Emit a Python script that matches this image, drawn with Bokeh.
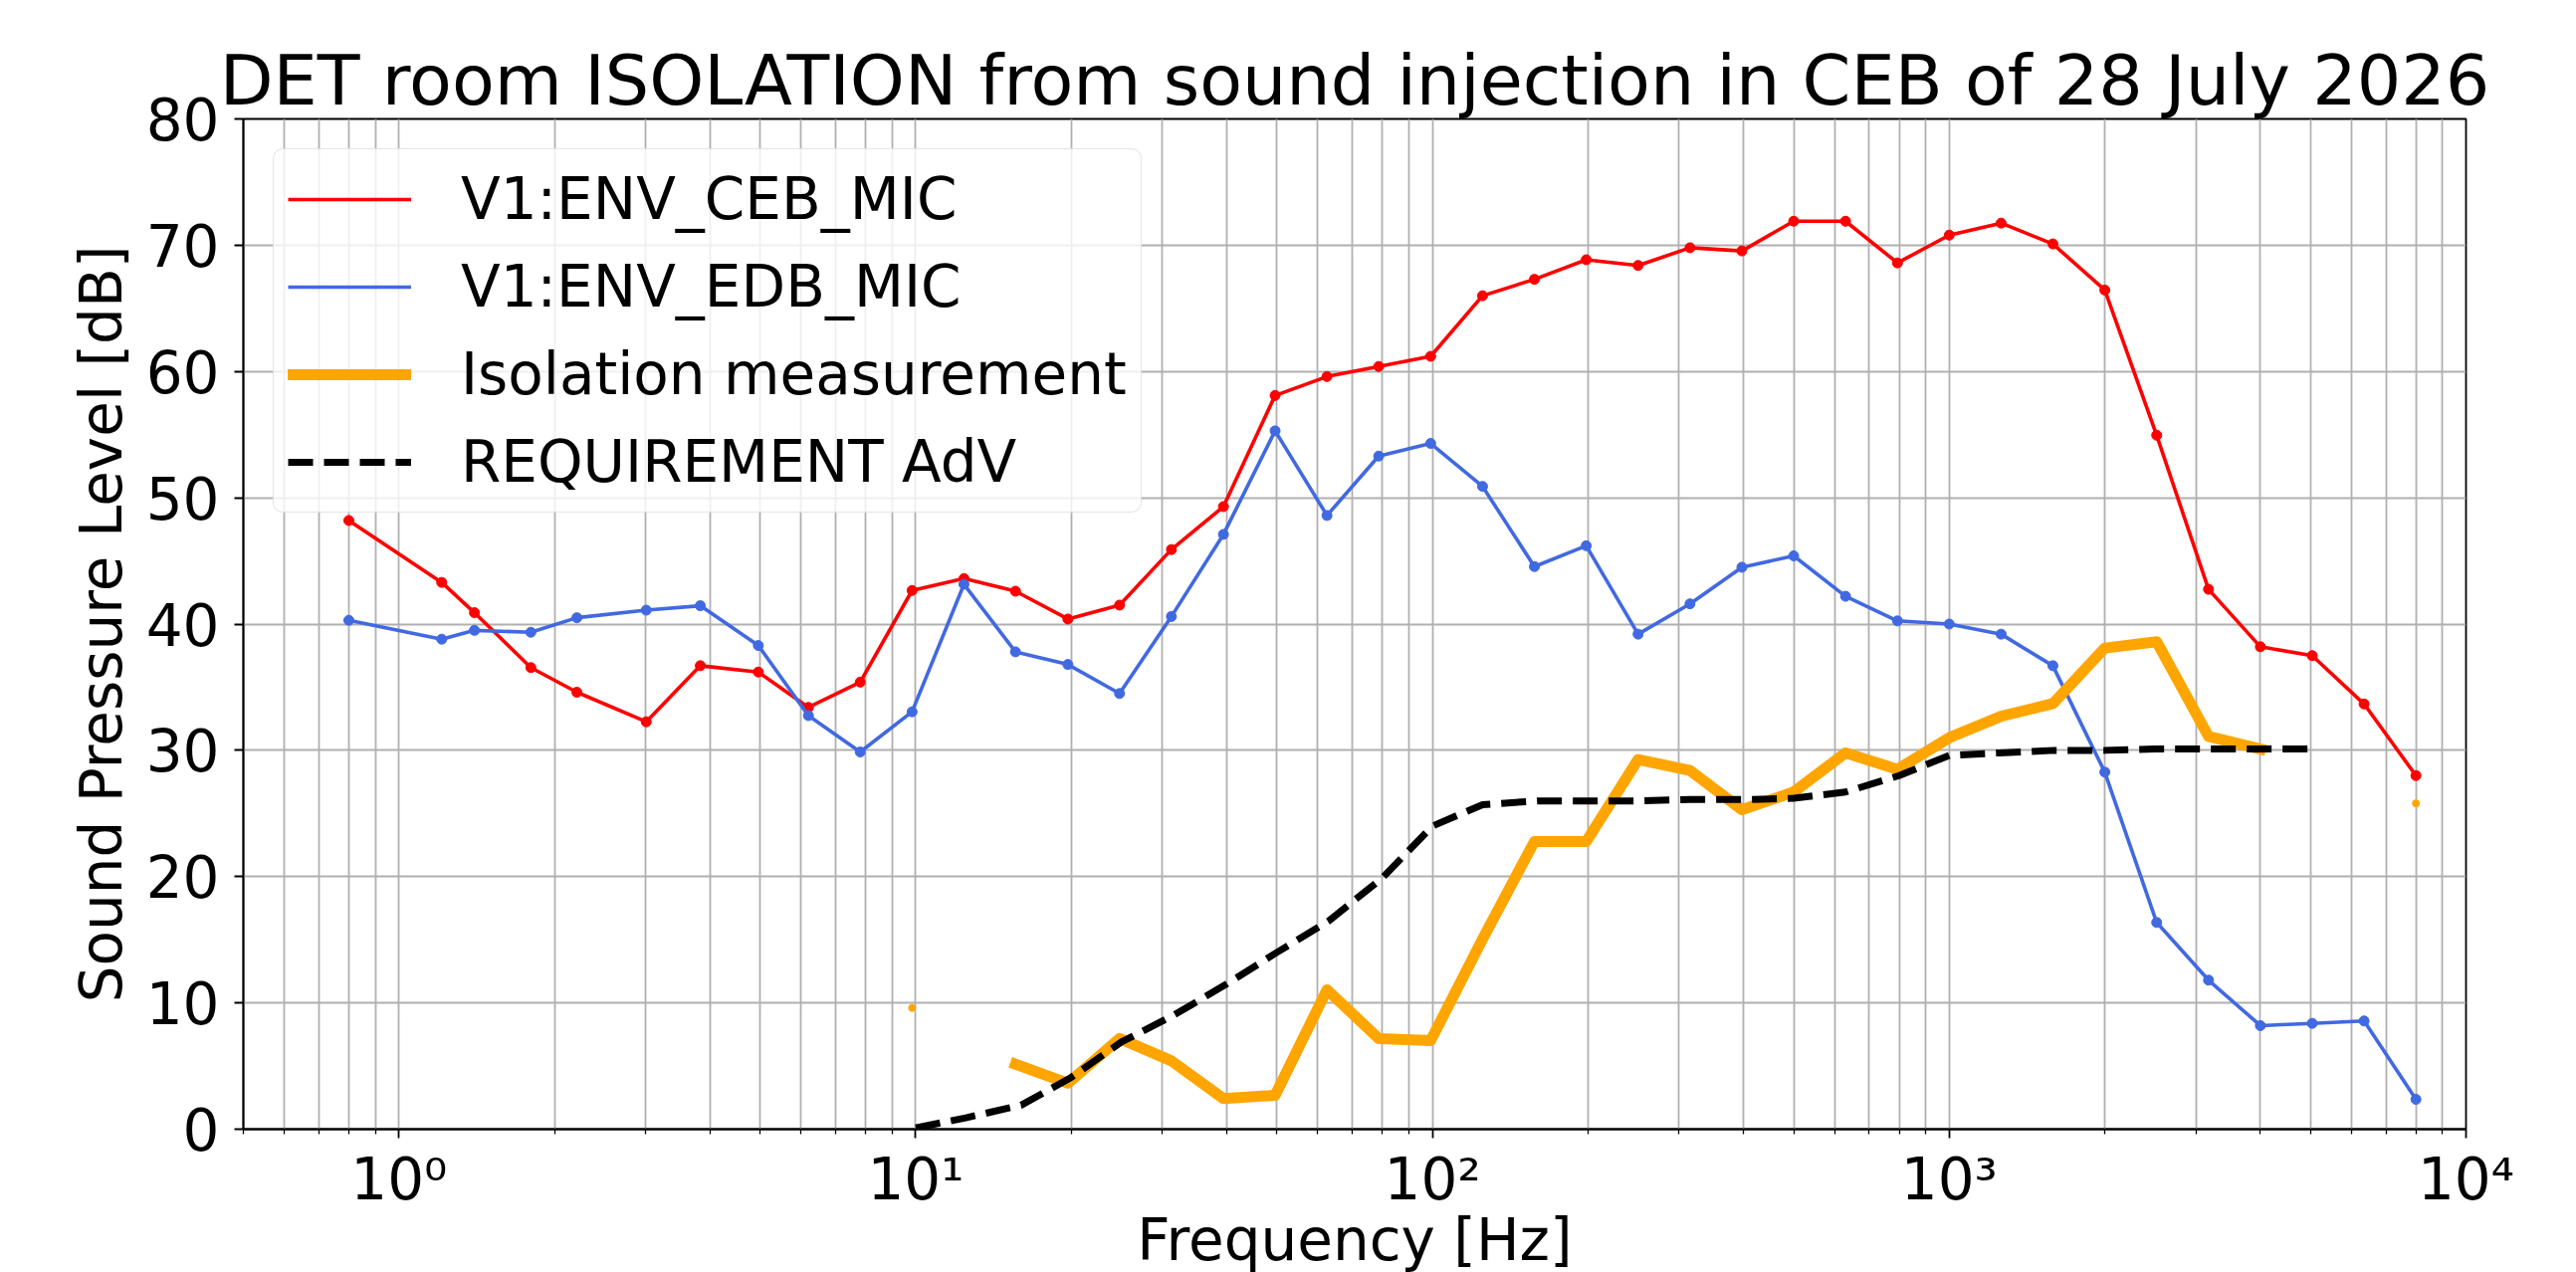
import numpy as np
from bokeh.plotting import figure
from bokeh.models import (Range1d, FixedTicker, CustomJSTickFormatter, Legend,
                          LegendItem, Title)
from bokeh.embed import file_html
from bokeh.resources import INLINE

nan = float("nan")

# ---------------- data ----------------
FREQ = [0.8, 1.21, 1.4, 1.8, 2.21, 3.01, 3.83, 4.96, 6.2, 7.81, 9.84, 12.4,
        15.6, 19.7, 24.8, 31.25, 39.4, 49.6, 62.5, 78.7, 99.2, 125, 157.5,
        198.4, 250, 315, 397, 500, 630, 794, 1000, 1260, 1587, 2000, 2520,
        3175, 4000, 5040, 6350, 8000]

CEB_MIC = [48.2, 43.3, 40.9, 36.55, 34.6, 32.26, 36.7, 36.2, 33.4, 35.4, 42.66,
           43.6, 42.6, 40.4, 41.5, 45.9, 49.3, 58.1, 59.6, 60.4, 61.2, 66.0,
           67.3, 68.85, 68.4, 69.8, 69.55, 71.9, 71.9, 68.6, 70.8, 71.75, 70.1,
           66.45, 54.95, 42.75, 38.2, 37.5, 33.67, 28.0]

EDB_MIC = [40.3, 38.8, 39.5, 39.35, 40.5, 41.1, 41.45, 38.3, 32.75, 29.87, 33.05,
           43.15, 37.8, 36.8, 34.5, 40.6, 47.1, 55.3, 48.6, 53.3, 54.3, 50.9,
           44.55, 46.2, 39.2, 41.6, 44.5, 45.4, 42.2, 40.25, 40.0, 39.2, 36.7,
           28.27, 16.37, 11.8, 8.2, 8.38, 8.57, 2.36]

ISOLATION = [nan, nan, nan, nan, nan, nan, nan, nan, nan, nan, 9.6,
             nan, 5.15, 3.64, 7.18, 5.41, 2.42, 2.68, 11.04, 7.18, 7.02, 15.06,
             22.78, 22.78, 29.28, 28.4, 25.3, 26.7, 29.8, 28.5, 31.0, 32.7, 33.7,
             38.1, 38.6, 31.1, 30.1, nan, nan, 25.8]

REQ_FREQ = [10, 12.5, 16, 20, 25, 31.5, 40, 50, 63, 80, 100, 125, 160, 200,
            250, 315, 400, 500, 630, 800, 1000, 1250, 1600, 2000, 2500, 3150,
            4000, 5000]
REQUIREMENT = [0.1, 0.9, 1.9, 4.1, 6.9, 9.0, 11.5, 14.0, 16.5, 19.9, 24.0, 25.7,
               26.0, 26.0, 26.0, 26.1, 26.1, 26.2, 26.7, 28.0, 29.6, 29.8, 30.0,
               30.0, 30.1, 30.1, 30.1, 30.1]

X_MAJOR = [1, 10, 100, 1000, 10000]
X_MINOR = [0.5, 0.6, 0.7, 0.8, 0.9,
           2, 3, 4, 5, 6, 7, 8, 9,
           20, 30, 40, 50, 60, 70, 80, 90,
           200, 300, 400, 500, 600, 700, 800, 900,
           2000, 3000, 4000, 5000, 6000, 7000, 8000, 9000]
Y_TICKS = [0, 10, 20, 30, 40, 50, 60, 70, 80]

TITLE = "DET room ISOLATION from sound injection in CEB of 28 July 2026"
XLABEL = "Frequency [Hz]"
YLABEL = "Sound Pressure Level [dB]"
LABELS = ["V1:ENV_CEB_MIC", "V1:ENV_EDB_MIC", "Isolation measurement",
          "REQUIREMENT AdV"]

FONT = "DejaVu Sans"
FS = "58px"

# ---------------- figure ----------------
FW, FH = 2233, 1015
p = figure(frame_width=FW, frame_height=FH, x_axis_type="log",
           x_range=Range1d(0.5, 10000), y_range=Range1d(0, 80),
           output_backend="svg", toolbar_location=None,
           min_border_left=244, min_border_right=109,
           min_border_top=119, min_border_bottom=142,
           background_fill_color="white", border_fill_color="white")
p.title = Title(text=TITLE, align="center", text_font=FONT,
                text_font_size="70px", text_font_style="normal",
                text_color="black", standoff=-5)
p.outline_line_color = "black"
p.outline_line_width = 1.8

xt = FixedTicker(ticks=X_MAJOR, minor_ticks=X_MINOR)
yt = FixedTicker(ticks=Y_TICKS, minor_ticks=[])
p.xaxis.ticker = xt
p.yaxis.ticker = yt
p.xgrid.ticker = xt
p.ygrid.ticker = yt

p.xaxis.formatter = CustomJSTickFormatter(code="""
const sup = {"0":"\\u2070","1":"\\u00b9","2":"\\u00b2","3":"\\u00b3","4":"\\u2074",
             "5":"\\u2075","6":"\\u2076","7":"\\u2077","8":"\\u2078","9":"\\u2079","-":"\\u207b"};
const e = Math.round(Math.log10(tick));
return "10" + String(e).split("").map(c => sup[c]).join("");
""")

for ax in (p.xaxis[0], p.yaxis[0]):
    ax.axis_line_color = "black"
    ax.axis_line_width = 1.8
    ax.major_tick_line_color = "black"
    ax.major_tick_line_width = 1.8
    ax.major_tick_out = 9
    ax.major_tick_in = 0
    ax.major_label_text_font = FONT
    ax.major_label_text_font_size = FS
    ax.major_label_text_color = "black"
    ax.axis_label_text_font = FONT
    ax.axis_label_text_font_size = FS
    ax.axis_label_text_font_style = "normal"
    ax.axis_label_text_color = "black"

p.xaxis.minor_tick_line_color = "black"
p.xaxis.minor_tick_line_width = 1.3
p.xaxis.minor_tick_out = 5
p.xaxis.minor_tick_in = 0
p.xaxis.major_label_standoff = 7
p.xaxis.axis_label = XLABEL
p.xaxis.axis_label_standoff = -10

p.yaxis.minor_tick_line_color = None
p.yaxis.major_label_standoff = 15
p.yaxis.axis_label = YLABEL
p.yaxis.axis_label_standoff = 8

for g in (p.xgrid, p.ygrid):
    g.grid_line_color = "#b0b0b0"
    g.grid_line_width = 1.8
p.xgrid.minor_grid_line_color = "#b0b0b0"
p.xgrid.minor_grid_line_width = 1.8

# ---------------- series ----------------
f = np.array(FREQ, dtype=float)
r_ceb = p.line(f, np.array(CEB_MIC), line_color="red", line_width=3.6,
               line_join="round")
p.scatter(f, np.array(CEB_MIC), size=10, color="red")

r_edb = p.line(f, np.array(EDB_MIC), line_color="#4169e1", line_width=3.6,
               line_join="round")
p.scatter(f, np.array(EDB_MIC), size=10, color="#4169e1")

iso = np.array(ISOLATION, dtype=float)
r_iso = p.line(f, iso, line_color="orange", line_width=11, line_join="round",
               line_cap="square")
ok = ~np.isnan(iso)
p.scatter(f[ok], iso[ok], size=7, color="orange")

r_req = p.line(np.array(REQ_FREQ, dtype=float), np.array(REQUIREMENT),
               line_color="black", line_width=7, line_dash="25 11")

legend_kw = dict(location="top_left", margin=30, padding=14, spacing=16,
                 glyph_width=124, glyph_height=72, label_height=72,
                 label_standoff=50,
                 label_text_font=FONT, label_text_font_size=FS,
                 label_text_color="black",
                 border_line_color="#cccccc", border_line_width=1.8,
                 background_fill_color="white", background_fill_alpha=0.8)
if "border_radius" in Legend.properties():
    legend_kw["border_radius"] = 10
legend = Legend(items=[LegendItem(label=LABELS[0], renderers=[r_ceb]),
                       LegendItem(label=LABELS[1], renderers=[r_edb]),
                       LegendItem(label=LABELS[2], renderers=[r_iso]),
                       LegendItem(label=LABELS[3], renderers=[r_req])],
                **legend_kw)
p.add_layout(legend)

open("out.html", "w").write(file_html(p, INLINE))
